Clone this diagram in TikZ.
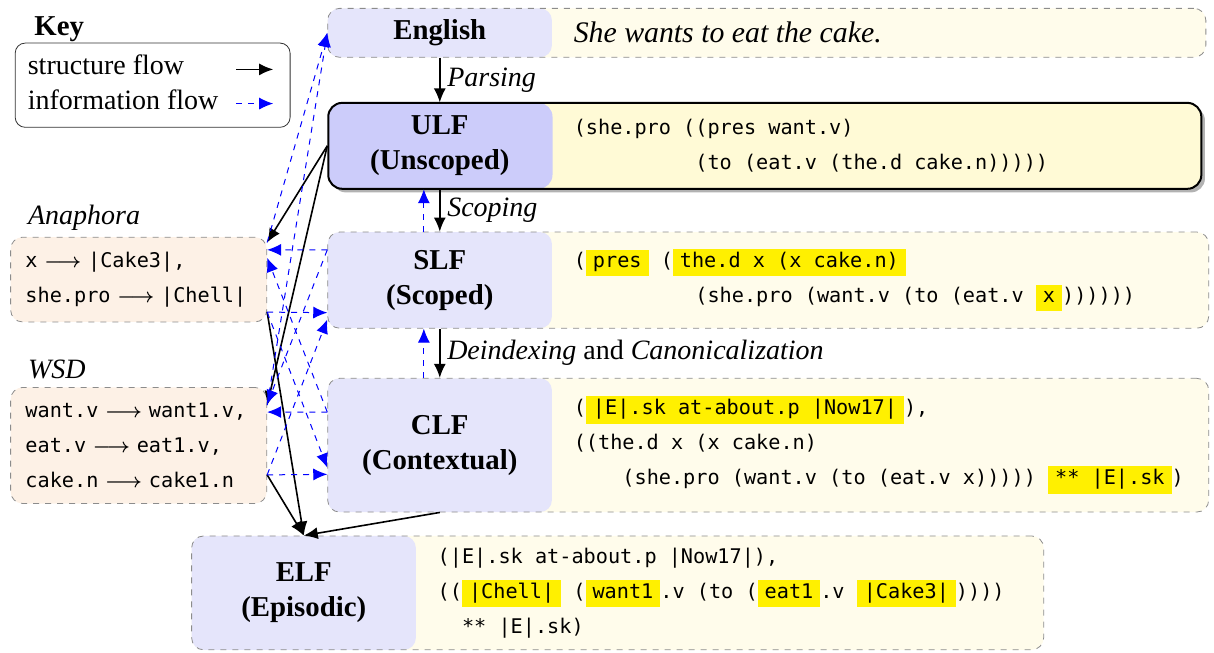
\documentclass[tikz,border=0pt]{standalone}
\usepackage{fontspec}
\setmainfont{Liberation Serif}
\setmonofont{DejaVu Sans Mono}
\usepackage{tikz}
\usetikzlibrary{arrows,arrows.meta,shapes,positioning,shadows}
\usepackage{xcolor}
\definecolor{elfblue}{RGB}{229,229,251}
\definecolor{elfdeepblue}{RGB}{204,204,250}
\definecolor{elfcream}{RGB}{255,252,235}
\definecolor{elfyellow}{RGB}{255,250,214}
\definecolor{elfpeach}{RGB}{253,241,230}
\definecolor{elfgray}{RGB}{140,140,140}
\definecolor{elfmark}{RGB}{255,240,0}
\tikzstyle{arrow} = [thick,->,>={Latex[length=7pt,width=6pt]},color=black]
\tikzstyle{infoarrow} = [semithin,->,>={Latex[length=7pt,width=6pt]},dashed,color=blue]
\tikzset{
  semithin/.style={line width=0.5pt},
  stagebox/.style={draw=elfgray, dashed, rounded corners=6pt, fill=elfcream, inner sep=0pt, anchor=north west,
    path picture={\fill[#1] (path picture bounding box.north west) rectangle ([xshift=3.94cm]path picture bounding box.south west);}},
  stagebox/.default=elfblue,
  stagename/.style={anchor=west, minimum width=3.94cm, inner sep=0pt, align=center, font=\fontsize{14.4}{17.5}\selectfont\bfseries},
  code/.style={anchor=west, inner sep=0pt, align=left, font=\fontsize{10.1}{17.5}\selectfont\ttfamily},
  sidebox/.style={draw=elfgray, dashed, rounded corners=6pt, fill=elfpeach, anchor=north west, inner xsep=0.26cm, inner ysep=0pt,
    text width=3.98cm, align=left, font=\fontsize{10.1}{17.5}\selectfont\ttfamily},
  sidetitle/.style={anchor=west, font=\fontsize{14}{17}\selectfont\itshape},
  steplabel/.style={right, font=\fontsize{14}{17}\selectfont\itshape},
  keybox/.style={draw=black!80, rounded corners=5pt, fill=white, anchor=north west, minimum width=4.83cm, minimum height=1.48cm}
}
\newcommand{\hlt}[1]{{\setlength{\fboxsep}{1.5pt}\colorbox{elfmark}{\hspace{2pt}\rule[-3pt]{0pt}{10pt}#1\hspace{2pt}}}}
\newcommand{\maps}{{\boldmath$\longrightarrow$}}

\begin{document}
\begin{tikzpicture}[font=\fontsize{14}{17}\selectfont]
\useasboundingbox (0,0) rectangle (21.33,11.47);

% Key
\node[anchor=base west, font=\fontsize{14.4}{17}\selectfont\bfseries] (keytitle) at (0.48,10.84) {Key};
\node[keybox] (key) at (0.26,10.72) {};
\node[anchor=base west] (keystruct) at (0.365,10.16) {structure flow};
\node[anchor=base west] (keyinfo) at (0.365,9.54) {information flow};
\coordinate (structa) at (4.15,10.25);
\coordinate (structb) at (4.8,10.25);
\coordinate (infoa) at (4.15,9.65);
\coordinate (infob) at (4.8,9.65);
\draw[arrow] (structa) -- (structb);
\draw[infoarrow] (infoa) -- (infob);

% Stages
\node[stagebox, minimum width=15.43cm, minimum height=0.86cm] (englishbox) at (5.75,11.33) {};
\node[stagename, minimum height=0.86cm] (english) at (englishbox.west) {English};
\node[anchor=west, inner sep=0pt, font=\fontsize{14.9}{17}\selectfont\itshape] (englishtext) at ([xshift=0.37cm]english.east) {She wants to eat the cake.};

\node[stagebox=elfdeepblue, draw=black, solid, line width=1pt, fill=elfyellow, rounded corners=7pt,
  drop shadow={shadow xshift=1.8pt, shadow yshift=-1.8pt, fill=black!30, opacity=1},
  minimum width=15.34cm, minimum height=1.51cm] (ulfbox) at (5.75,9.68) {};
\node[stagename, minimum height=1.51cm] (ulf) at (ulfbox.west) {ULF\\(Unscoped)};
\node[code] (ulftext) at ([xshift=0.37cm]ulf.east) {(she.pro ((pres want.v)\\\phantom{xxxxxxxxxx}(to (eat.v (the.d cake.n)))))};

\node[stagebox, minimum width=15.48cm, minimum height=1.69cm] (slfbox) at (5.75,7.40) {};
\node[stagename, minimum height=1.69cm] (slf) at (slfbox.west) {SLF\\(Scoped)};
\node[code] (slftext) at ([xshift=0.37cm]slf.east) {(\hlt{pres} (\hlt{the.d x (x cake.n)}\\\phantom{xxxxxxxxxx}(she.pro (want.v (to (eat.v \hlt{x}))))))};

\node[stagebox, minimum width=15.48cm, minimum height=2.35cm] (clfbox) at (5.75,4.83) {};
\node[stagename, minimum height=2.35cm] (clf) at (clfbox.west) {CLF\\(Contextual)};
\node[code] (clftext) at ([xshift=0.37cm]clf.east) {(\hlt{|E|.sk at-about.p |Now17|}),\\((the.d x (x cake.n)\\\phantom{xxxx}(she.pro (want.v (to (eat.v x))))) \hlt{** |E|.sk})};

\node[stagebox, minimum width=14.97cm, minimum height=2.00cm] (elfbox) at (3.36,2.06) {};
\node[stagename, minimum height=2.00cm] (elf) at (elfbox.west) {ELF\\(Episodic)};
\node[code] (elftext) at ([xshift=0.37cm]elf.east) {(|E|.sk at-about.p |Now17|),\\((\hlt{|Chell|} (\hlt{want1}.v (to (\hlt{eat1}.v \hlt{|Cake3|}))))\\\phantom{xx}** |E|.sk)};

% Side boxes
\node[sidebox, minimum height=1.49cm] (anaphora) at (0.18,7.31) {x \maps{} |Cake3|,\\she.pro \maps{} |Chell|};
\node[sidetitle] (anatitle) at (0.37,7.64) {Anaphora};
\node[sidebox, minimum height=2.04cm] (wsd) at (0.18,4.67) {want.v \maps{} want1.v,\\eat.v \maps{} eat1.v,\\cake.n \maps{} cake1.n};
\node[sidetitle] (wsdtitle) at (0.37,4.97) {WSD};

% Connection points
\coordinate (anatop) at ([yshift=-0.1cm]anaphora.north east);
\coordinate (anain) at ([yshift=-0.23cm]anaphora.north east);
\coordinate (anaout) at ([yshift=0.18cm]anaphora.south east);
\coordinate (wsdtop) at ([yshift=-0.32cm]wsd.north east);
\coordinate (wsdin) at ([yshift=-0.44cm]wsd.north east);
\coordinate (wsdout) at ([yshift=0.51cm]wsd.south east);
\coordinate (slfout) at ([yshift=-0.32cm]slfbox.north west);
\coordinate (slfin) at ([yshift=0.28cm]slfbox.south west);
\coordinate (clfout) at ([yshift=-0.60cm]clfbox.north west);
\coordinate (clfin) at ([yshift=0.67cm]clfbox.south west);

% Structure flow
\draw[arrow] (english) -- node[steplabel] {Parsing} (ulf);
\draw[arrow] (ulf) -- node[steplabel] {Scoping} (slf);
\draw[arrow] (slf) -- node[steplabel] {Deindexing \textup{and} Canonicalization} (clf);
\draw[arrow] (ulf.west) -- (anatop);
\draw[arrow] (ulf.west) -- (wsdtop);
\draw[arrow] (anaout) -- (elf.north);
\draw[arrow] (wsdout) -- (elf.north);
\draw[arrow] (clf.south) -- (elf.north);

% Information flow
\draw[infoarrow] ([xshift=-0.28cm]slf.north) -- ([xshift=-0.28cm]ulf.south);
\draw[infoarrow] ([xshift=-0.28cm]clf.north) -- ([xshift=-0.28cm]slf.south);
\draw[infoarrow] (anatop) -- (englishbox.west);
\draw[infoarrow] (wsdtop) -- (englishbox.west);
\draw[infoarrow] (slfout) -- (anain);
\draw[infoarrow] (slfout) -- ([yshift=0.14cm]wsdin);
\draw[infoarrow] (clfout) -- (wsdin);
\draw[infoarrow] (clfout) -- ([yshift=-0.14cm]anain);
\draw[infoarrow] (anaout) -- (slfin);
\draw[infoarrow] (anaout) -- ([yshift=0.12cm]clfin);
\draw[infoarrow] (wsdout) -- (clfin);
\draw[infoarrow] (wsdout) -- ([yshift=-0.12cm]slfin);
\end{tikzpicture}
\end{document}
